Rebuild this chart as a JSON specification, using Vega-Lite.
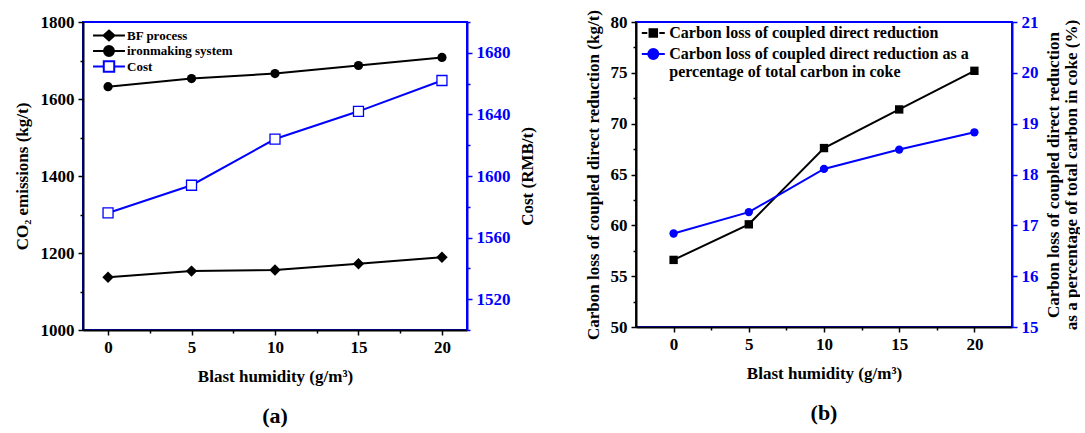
{
  "$schema": "https://vega.github.io/schema/vega-lite/v6.json",
  "padding": {"left": 12, "top": 8, "right": 0, "bottom": 0},
  "spacing": 47,
  "background": "white",
  "config": {
    "font": "Liberation Serif",
    "view": {"stroke": "#0000ff", "strokeWidth": 2},
    "axis": {
      "grid": false,
      "labelFont": "Liberation Serif",
      "labelFontWeight": "bold",
      "labelFontSize": 17,
      "titleFont": "Liberation Serif",
      "titleFontWeight": "bold",
      "titleFontSize": 17,
      "titleColor": "black",
      "domainWidth": 2,
      "tickWidth": 1.5,
      "labelOverlap": false,
      "labelFlush": false,
      "labelBound": false
    },
    "legend": {"labelFont": "Liberation Serif", "labelFontWeight": "bold", "labelColor": "black"},
    "title": {"font": "Liberation Serif", "fontSize": 22, "fontWeight": "bold", "color": "black"}
  },
  "resolve": {
    "scale": {"fill": "independent", "stroke": "independent", "shape": "independent"},
    "legend": {"fill": "independent", "stroke": "independent", "shape": "independent"}
  },
  "hconcat": [
    {
      "width": 384,
      "height": 308,
      "title": {"text": "(a)", "orient": "bottom", "frame": "group", "anchor": "middle", "offset": 22},
      "data": {
        "values": [
          {"h": 0, "series": "BF process", "value": 1137},
          {"h": 5, "series": "BF process", "value": 1153},
          {"h": 10, "series": "BF process", "value": 1156},
          {"h": 15, "series": "BF process", "value": 1172},
          {"h": 20, "series": "BF process", "value": 1189},
          {"h": 0, "series": "ironmaking system", "value": 1632},
          {"h": 5, "series": "ironmaking system", "value": 1653},
          {"h": 10, "series": "ironmaking system", "value": 1666},
          {"h": 15, "series": "ironmaking system", "value": 1687},
          {"h": 20, "series": "ironmaking system", "value": 1708},
          {"h": 0, "series": "Cost", "value": 1576},
          {"h": 5, "series": "Cost", "value": 1594},
          {"h": 10, "series": "Cost", "value": 1624},
          {"h": 15, "series": "Cost", "value": 1642},
          {"h": 20, "series": "Cost", "value": 1662}
        ]
      },
      "layer": [
        {
          "transform": [{"filter": "datum.series != 'Cost'"}],
          "encoding": {
            "x": {
              "field": "h", "type": "quantitative",
              "scale": {"domain": [-1.5, 21.5], "nice": false, "zero": false},
              "axis": {
                "title": "Blast humidity (g/m³)",
                "values": [0, 2.5, 5, 7.5, 10, 12.5, 15, 17.5, 20],
                "format": "d",
                "labelExpr": "datum.value % 5 == 0 ? datum.label : ''",
                "tickSize": {"condition": {"test": "datum.value % 5 == 0", "value": 5}, "value": 3},
                "domainColor": "black", "tickColor": "black", "labelColor": "black",
                "labelFontWeight": "bold",
                "labelPadding": 4, "titlePadding": 13
              }
            },
            "y": {
              "field": "value", "type": "quantitative",
              "scale": {"domain": [1000, 1800], "nice": false, "zero": false},
              "axis": {
                "title": "CO₂ emissions (kg/t)",
                "values": [1000, 1100, 1200, 1300, 1400, 1500, 1600, 1700, 1800],
                "format": "d",
                "labelExpr": "datum.value % 200 == 0 ? datum.label : ''",
                "tickSize": {"condition": {"test": "datum.value % 200 == 0", "value": 5}, "value": 3},
                "domainColor": "black", "tickColor": "black", "labelColor": "black",
                "labelFontWeight": "bold",
                "labelPadding": 4, "titlePadding": 9
              }
            }
          },
          "layer": [
            {"mark": {"type": "line", "color": "black", "strokeWidth": 2}, "encoding": {"detail": {"field": "series", "type": "nominal"}}},
            {"transform": [{"filter": "datum.series == 'BF process'"}], "mark": {"type": "point", "shape": "diamond", "filled": true, "color": "black", "size": 130, "opacity": 1}},
            {"transform": [{"filter": "datum.series == 'ironmaking system'"}], "mark": {"type": "point", "shape": "circle", "filled": true, "color": "black", "size": 85, "opacity": 1}},
            {
              "transform": [{"filter": "false"}],
              "mark": {"type": "point", "opacity": 1, "strokeWidth": 2},
              "encoding": {
                "shape": {
                  "field": "series", "type": "nominal",
                  "scale": {"domain": ["BF process", "ironmaking system", "Cost"], "range": [
                    "M-2.9,0H-1M-1,0L0,-0.9L1,0L0,0.9ZM1,0H2.9",
                    "M-2.9,0H-0.9M-0.9,0A0.9,0.9,0,1,0,0.9,0A0.9,0.9,0,1,0,-0.9,0ZM0.9,0H2.9",
                    "M-2.9,0H-0.95M-0.95,-0.95H0.95V0.95H-0.95ZM0.95,0H2.9"
                  ]},
                  "legend": {
                    "title": null, "orient": "top-left", "offset": 7, "padding": 0,
                    "labelFontSize": 13, "symbolSize": 121, "symbolStrokeWidth": 2,
                    "symbolOffset": 12.5, "labelOffset": 11.5, "rowPadding": 1.5, "clipHeight": 13, "labelLimit": 400
                  }
                },
                "fill": {"field": "series", "type": "nominal", "scale": {"domain": ["BF process", "ironmaking system", "Cost"], "range": ["black", "black", "white"]}},
                "stroke": {"field": "series", "type": "nominal", "scale": {"domain": ["BF process", "ironmaking system", "Cost"], "range": ["black", "black", "#0000ff"]}}
              }
            }
          ]
        },
        {
          "transform": [{"filter": "datum.series == 'Cost'"}],
          "encoding": {
            "x": {"field": "h", "type": "quantitative"},
            "y": {
              "field": "value", "type": "quantitative",
              "scale": {"domain": [1500, 1700], "nice": false, "zero": false},
              "axis": {
                "orient": "right",
                "title": "Cost (RMB/t)",
                "titleAngle": 270, "titleBaseline": "top",
                "values": [1500, 1520, 1540, 1560, 1580, 1600, 1620, 1640, 1660, 1680, 1700],
                "format": "d",
                "labelExpr": "datum.value % 40 == 0 ? datum.label : ''",
                "tickSize": {"condition": {"test": "datum.value % 40 == 0", "value": 5}, "value": 3},
                "domainColor": "#0000ff", "tickColor": "#0000ff", "labelColor": "#0000ff",
                "labelFontWeight": "bold",
                "labelPadding": 4, "titlePadding": 9
              }
            }
          },
          "layer": [
            {"mark": {"type": "line", "color": "#0000ff", "strokeWidth": 2}},
            {"mark": {"type": "point", "shape": "square", "filled": true, "fill": "white", "stroke": "#0000ff", "strokeWidth": 1.3, "size": 100, "opacity": 1}}
          ]
        }
      ],
      "resolve": {"scale": {"y": "independent"}}
    },
    {
      "width": 376,
      "height": 305,
      "title": {"text": "(b)", "orient": "bottom", "frame": "group", "anchor": "middle", "offset": 22},
      "data": {
        "values": [
          {"h": 0, "series": "Carbon loss of coupled direct reduction", "value": 56.6},
          {"h": 5, "series": "Carbon loss of coupled direct reduction", "value": 60.1},
          {"h": 10, "series": "Carbon loss of coupled direct reduction", "value": 67.6},
          {"h": 15, "series": "Carbon loss of coupled direct reduction", "value": 71.4},
          {"h": 20, "series": "Carbon loss of coupled direct reduction", "value": 75.2},
          {"h": 0, "series": "Carbon loss of coupled direct reduction as a percentage of total carbon in coke", "value": 16.84},
          {"h": 5, "series": "Carbon loss of coupled direct reduction as a percentage of total carbon in coke", "value": 17.26},
          {"h": 10, "series": "Carbon loss of coupled direct reduction as a percentage of total carbon in coke", "value": 18.11},
          {"h": 15, "series": "Carbon loss of coupled direct reduction as a percentage of total carbon in coke", "value": 18.49},
          {"h": 20, "series": "Carbon loss of coupled direct reduction as a percentage of total carbon in coke", "value": 18.83}
        ]
      },
      "layer": [
        {
          "transform": [{"filter": "datum.series == 'Carbon loss of coupled direct reduction'"}],
          "encoding": {
            "x": {
              "field": "h", "type": "quantitative",
              "scale": {"domain": [-2.5, 22.5], "nice": false, "zero": false},
              "axis": {
                "title": "Blast humidity (g/m³)",
                "values": [0, 2.5, 5, 7.5, 10, 12.5, 15, 17.5, 20],
                "format": "d",
                "labelExpr": "datum.value % 5 == 0 ? datum.label : ''",
                "tickSize": {"condition": {"test": "datum.value % 5 == 0", "value": 5}, "value": 3},
                "domainColor": "black", "tickColor": "black", "labelColor": "black",
                "labelFontWeight": "bold",
                "labelPadding": 4, "titlePadding": 13
              }
            },
            "y": {
              "field": "value", "type": "quantitative",
              "scale": {"domain": [50, 80], "nice": false, "zero": false},
              "axis": {
                "title": "Carbon loss of coupled direct reduction (kg/t)",
                "values": [50, 52.5, 55, 57.5, 60, 62.5, 65, 67.5, 70, 72.5, 75, 77.5, 80],
                "format": "d",
                "labelExpr": "datum.value % 5 == 0 ? datum.label : ''",
                "tickSize": {"condition": {"test": "datum.value % 5 == 0", "value": 5}, "value": 3},
                "domainColor": "black", "tickColor": "black", "labelColor": "black",
                "labelFontWeight": "bold",
                "labelPadding": 4, "titlePadding": 8
              }
            }
          },
          "layer": [
            {"mark": {"type": "line", "color": "black", "strokeWidth": 2}},
            {"mark": {"type": "point", "shape": "square", "filled": true, "color": "black", "size": 70, "opacity": 1}},
            {
              "transform": [{"filter": "false"}],
              "mark": {"type": "point", "opacity": 1, "strokeWidth": 2},
              "encoding": {
                "shape": {
                  "field": "series", "type": "nominal",
                  "scale": {"domain": ["Carbon loss of coupled direct reduction", "Carbon loss of coupled direct reduction as a percentage of total carbon in coke"], "range": [
                    "M-2.3,0H-1.2M-0.75,-0.75H0.75V0.75H-0.75ZM1.2,0H2.3",
                    "M-2.3,0H-1M-1,0A1,1,0,1,0,1,0A1,1,0,1,0,-1,0ZM1,0H2.3"
                  ]},
                  "legend": {
                    "title": null, "orient": "top-left", "offset": 3, "padding": 0,
                    "labelFontSize": 16, "symbolSize": 100, "symbolStrokeWidth": 2,
                    "symbolOffset": 6.3, "labelOffset": 8, "rowPadding": 4, "labelLimit": 500,
                    "labelExpr": "indexof(datum.label, 'percentage') >= 0 ? ['Carbon loss of coupled direct reduction as a', 'percentage of total carbon in coke'] : datum.label"
                  }
                },
                "fill": {"field": "series", "type": "nominal", "scale": {"domain": ["Carbon loss of coupled direct reduction", "Carbon loss of coupled direct reduction as a percentage of total carbon in coke"], "range": ["black", "#0000ff"]}},
                "stroke": {"field": "series", "type": "nominal", "scale": {"domain": ["Carbon loss of coupled direct reduction", "Carbon loss of coupled direct reduction as a percentage of total carbon in coke"], "range": ["black", "#0000ff"]}}
              }
            }
          ]
        },
        {
          "transform": [{"filter": "datum.series != 'Carbon loss of coupled direct reduction'"}],
          "encoding": {
            "x": {"field": "h", "type": "quantitative"},
            "y": {
              "field": "value", "type": "quantitative",
              "scale": {"domain": [15, 21], "nice": false, "zero": false},
              "axis": {
                "orient": "right",
                "title": ["Carbon loss of coupled direct reduction", "as a percentage of total carbon in coke (%)"],
                "titleAngle": 270, "titleBaseline": "top", "titleLineHeight": 18,
                "values": [15, 15.5, 16, 16.5, 17, 17.5, 18, 18.5, 19, 19.5, 20, 20.5, 21],
                "format": "d",
                "labelExpr": "datum.value % 1 == 0 ? datum.label : ''",
                "tickSize": {"condition": {"test": "datum.value % 1 == 0", "value": 5}, "value": 3},
                "domainColor": "#0000ff", "tickColor": "#0000ff", "labelColor": "#0000ff",
                "labelFontWeight": "bold",
                "labelPadding": 4, "titlePadding": -11
              }
            }
          },
          "layer": [
            {"mark": {"type": "line", "color": "#0000ff", "strokeWidth": 2}},
            {"mark": {"type": "point", "shape": "circle", "filled": true, "color": "#0000ff", "size": 70, "opacity": 1}}
          ]
        }
      ],
      "resolve": {"scale": {"y": "independent"}}
    }
  ]
}
